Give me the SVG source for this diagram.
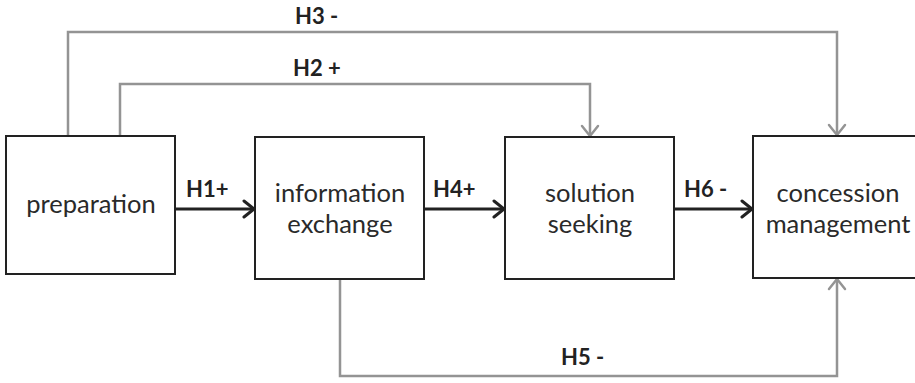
<svg xmlns="http://www.w3.org/2000/svg" width="915" height="383" viewBox="0 0 915 383">
  <style>
    .box { fill: #ffffff; stroke: #222222; stroke-width: 2; }
    .node { font-family: Lato, "Open Sans", "Liberation Sans", sans-serif; font-size: 25.5px; fill: #2a2a2a; text-anchor: middle; }
    .lbl { font-family: Lato, "Open Sans", "Liberation Sans", sans-serif; font-size: 22px; font-weight: bold; fill: #222222; }
    .main { fill: none; stroke: #222222; stroke-width: 3; }
    .side { fill: none; stroke: #949494; stroke-width: 2.5; }
  </style>
  <defs>
    <marker id="blk" markerUnits="userSpaceOnUse" markerWidth="14" markerHeight="20" refX="12" refY="10" orient="auto">
      <path d="M2,2 L12,10 L2,18" fill="none" stroke="#222222" stroke-width="3" stroke-linecap="round" stroke-linejoin="round"/>
    </marker>
    <marker id="gry" markerUnits="userSpaceOnUse" markerWidth="14" markerHeight="20" refX="12" refY="10" orient="auto">
      <path d="M2,2 L12,10 L2,18" fill="none" stroke="#949494" stroke-width="2.5" stroke-linecap="round" stroke-linejoin="round"/>
    </marker>
  </defs>

  <g id="connectors">
    <path class="side" d="M68,136 V32 H837 V135" marker-end="url(#gry)"/>
    <path class="side" d="M120,136 V84 H590 V136" marker-end="url(#gry)"/>
    <path class="side" d="M340,279 V376 H837 V279" marker-end="url(#gry)"/>
    <path class="main" d="M175,209 H254" marker-end="url(#blk)"/>
    <path class="main" d="M424,209 H504" marker-end="url(#blk)"/>
    <path class="main" d="M674,209 H752" marker-end="url(#blk)"/>
  </g>

  <g id="node-preparation">
    <rect class="box" x="6" y="136" width="169" height="138"/>
    <text class="node" x="91" y="213">preparation</text>
  </g>
  <g id="node-information-exchange">
    <rect class="box" x="255" y="137" width="169" height="142"/>
    <text class="node" x="340" y="202">information</text>
    <text class="node" x="340" y="233">exchange</text>
  </g>
  <g id="node-solution-seeking">
    <rect class="box" x="505" y="137" width="169" height="142"/>
    <text class="node" x="590" y="202">solution</text>
    <text class="node" x="590" y="233">seeking</text>
  </g>
  <g id="node-concession-management">
    <rect class="box" x="753" y="136" width="169" height="142"/>
    <text class="node" x="838" y="202">concession</text>
    <text class="node" x="838" y="233">management</text>
  </g>

  <g id="labels">
    <text class="lbl" x="295" y="24">H3 -</text>
    <text class="lbl" x="293" y="76">H2 +</text>
    <text class="lbl" x="186" y="197">H1+</text>
    <text class="lbl" x="433" y="197">H4+</text>
    <text class="lbl" x="684" y="197">H6 -</text>
    <text class="lbl" x="561" y="365">H5 -</text>
  </g>
</svg>
